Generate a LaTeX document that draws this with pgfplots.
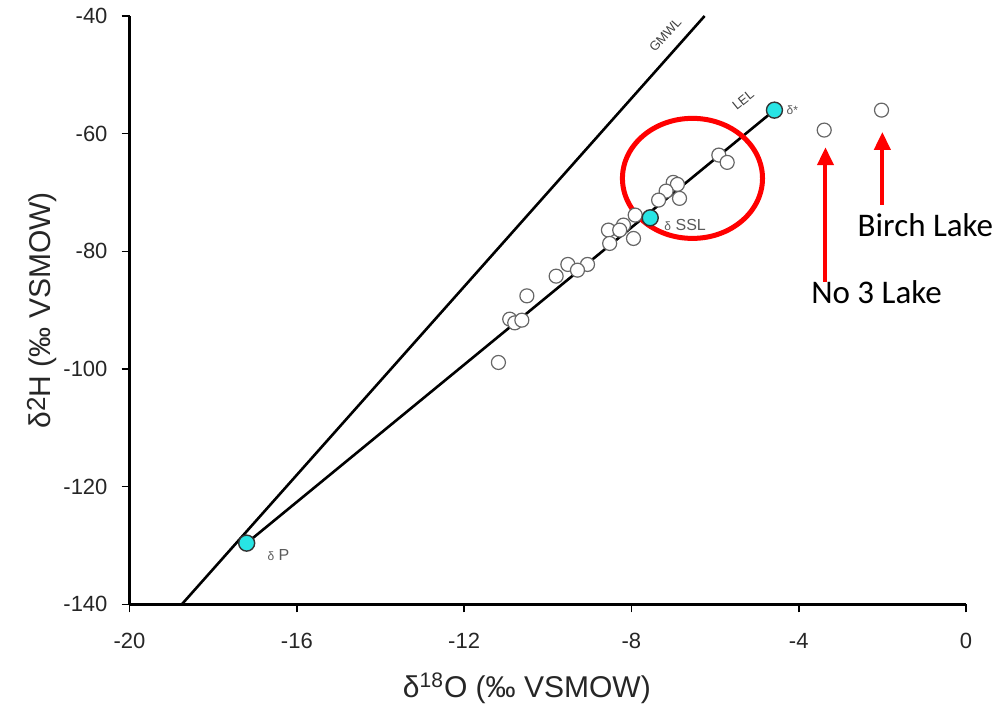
\documentclass[border=0pt]{standalone}
\usepackage{fontspec}
\setmainfont{Liberation Sans}
\newfontfamily\calib{Carlito}
\usepackage{pgfplots}
\pgfplotsset{compat=1.18}
\usetikzlibrary{arrows.meta}
\definecolor{cy}{RGB}{40,228,228}
\definecolor{lblgray}{RGB}{90,90,90}
\pgfplotstableread{
x y
-5.91 -63.64
-5.71 -64.88
-7.00 -68.28
-6.90 -68.62
-7.17 -69.76
-6.85 -71.00
-7.35 -71.29
-7.91 -73.84
-8.19 -75.54
-8.55 -76.39
-8.28 -76.39
-7.95 -77.81
-8.52 -78.66
-9.52 -82.23
-9.05 -82.23
-9.29 -83.20
-9.80 -84.22
-10.50 -87.57
-10.91 -91.53
-10.79 -92.16
-10.62 -91.70
-11.18 -98.89
-3.39 -59.39
-2.02 -56.00
}\samples
\begin{document}
\begin{tikzpicture}
\begin{axis}[
  at={(0,0)}, anchor=south west,
  scale only axis, width=418pt, height=294pt,
  xmin=-20, xmax=0, ymin=-140, ymax=-40,
  axis x line*=bottom, axis y line*=left,
  axis line style={line width=1.3pt, black},
  xtick={-20,-16,-12,-8,-4,0},
  ytick={-140,-120,-100,-80,-60,-40},
  tick align=outside, major tick length=4pt,
  tick style={line width=0.8pt, black},
  ticklabel style={font=\fontsize{11}{12}\selectfont, text=black!85},
  xticklabel style={yshift=-7pt},
  yticklabel style={xshift=-3.5pt},
  /pgf/number format/assume math mode=true,
  clip=false,
  xlabel={δ\textsuperscript{18}O (‰ VSMOW)},
  ylabel={δ\raisebox{0.35ex}{\fontsize{13}{13}\selectfont 2}H (‰ VSMOW)},
  label style={font=\fontsize{15}{16}\selectfont, text=black!85},
  xlabel style={at={(axis description cs:0.475,-0.143)}, anchor=center},
  ylabel style={at={(axis description cs:-0.1047,0.5)}, anchor=center},
]
\addplot[black, line width=1.3pt] coordinates {(-18.75,-140) (-6.25,-40)};
\addplot[black, line width=1.3pt] coordinates {(-17.2,-129.6) (-4.58,-56.0)};
\addplot[only marks, mark=*, mark size=3.5pt,
  mark options={fill=white, draw=black!60, line width=0.6pt}] table[x=x,y=y] {\samples};
\addplot[only marks, mark=*, mark size=4pt,
  mark options={fill=cy, draw=black!80, line width=0.7pt}]
  coordinates {(-17.2,-129.6) (-7.55,-74.3) (-4.58,-56.0)};
% labels
\node[rotate=48.5, inner sep=0pt, font=\fontsize{6.5}{7}\selectfont, text=black!75] at (axis cs:-7.19,-43.2) {GMWL};
\node[rotate=39, inner sep=0pt, font=\fontsize{6.5}{7}\selectfont, text=black!75] at (axis cs:-5.33,-54.3) {LEL};
\node[anchor=west, inner sep=0pt, font=\fontsize{6}{7}\selectfont, text=lblgray] at (axis cs:-4.30,-56.0) {δ*};
\node[anchor=west, inner sep=0pt, font=\fontsize{8}{9}\selectfont, text=lblgray] at (axis cs:-7.22,-75.6) {{\fontsize{6}{7}\selectfont δ} SSL};
\node[anchor=west, inner sep=0pt, font=\fontsize{8}{9}\selectfont, text=lblgray] at (axis cs:-16.71,-131.7) {{\fontsize{6}{7}\selectfont δ} P};
% annotations
\draw[red, line width=2.5pt] (axis cs:-6.54,-67.6) ellipse [x radius=35pt, y radius=30pt];
\draw[red, line width=2pt, -{Triangle[width=8pt,length=9pt]}] (axis cs:-3.36,-85.2) -- (axis cs:-3.36,-62.3);
\draw[red, line width=2pt, -{Triangle[width=8pt,length=9pt]}] (axis cs:-2.0,-72.1) -- (axis cs:-2.0,-59.7);
\node[font=\calib\fontsize{16.5}{18}\selectfont] at (axis cs:-0.97,-75.5) {Birch Lake};
\node[font=\calib\fontsize{16.5}{18}\selectfont] at (axis cs:-2.14,-86.9) {No 3 Lake};
\end{axis}
\pgfresetboundingbox
\path (-64.75pt,-54pt) rectangle (435pt,302pt);
\end{tikzpicture}
\end{document}
